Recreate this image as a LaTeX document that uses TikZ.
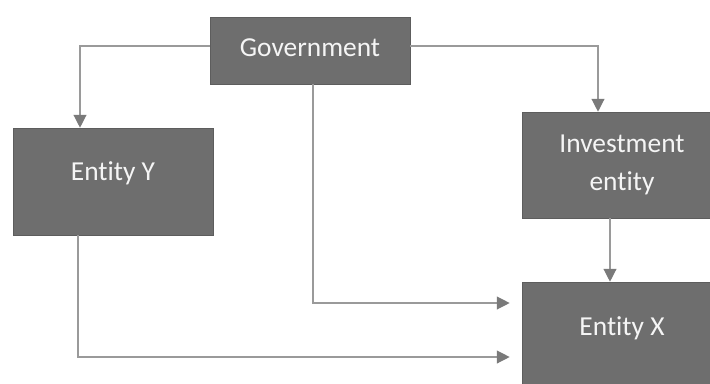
\documentclass[tikz,border=0pt]{standalone}
\usepackage{fontspec}
\setmainfont{Carlito}[Ligatures=NoCommon]
\usetikzlibrary{positioning,arrows.meta}

\definecolor{boxgray}{HTML}{6E6E6E}
\definecolor{linegray}{HTML}{9A9A9A}
\definecolor{tipgray}{HTML}{7A7A7A}

\tikzset{
  entbox/.style={draw=boxgray!85!black, fill=boxgray, text=white!92!gray,
    align=center, minimum width=5cm, font=\fontsize{19.5}{27}\selectfont},
  flow/.style={draw=linegray, line width=0.9pt,
    -{Triangle[length=0.32cm, width=0.32cm, color=tipgray]}},
  link/.style={draw=linegray, line width=0.9pt}
}

\begin{document}
\begin{tikzpicture}[x=0.025cm, y=-0.025cm]

\useasboundingbox (0,0) rectangle (710,383);
\clip (0,0) rectangle (710,383);

\node[entbox, minimum height=1.675cm, text depth=0.15cm] (gov) at (310,50.5) {Government};
\node[entbox, minimum height=2.675cm, text depth=0.54cm] (ey) at (113,181.5) {Entity Y};
\node[entbox, minimum height=2.65cm] (inv) at (622,165) {Investment\\entity};
\node[entbox, minimum height=2.7cm, text depth=0.5cm] (ex) at (622,336) {Entity X};

% turning points
\coordinate (gl) at (80,46);
\coordinate (gr) at (598,46);
\coordinate (gd) at (313,303);
\coordinate (yd) at (78,357);

\draw[flow] (gov.west |- gl) -- (gl) -- (gl |- ey.north);
\draw[flow] (gov.east |- gr) -- (gr) -- (gr |- inv.north);
\draw[flow] (gov.south -| gd) -- (gd) -- ([xshift=-0.3cm]ex.west |- gd);
\draw[flow] (ey.south -| yd) -- (yd) -- ([xshift=-0.3cm]ex.west |- yd);
\draw[flow] ([xshift=-0.3cm]inv.south) -- ([xshift=-0.3cm]ex.north);

\end{tikzpicture}
\end{document}
